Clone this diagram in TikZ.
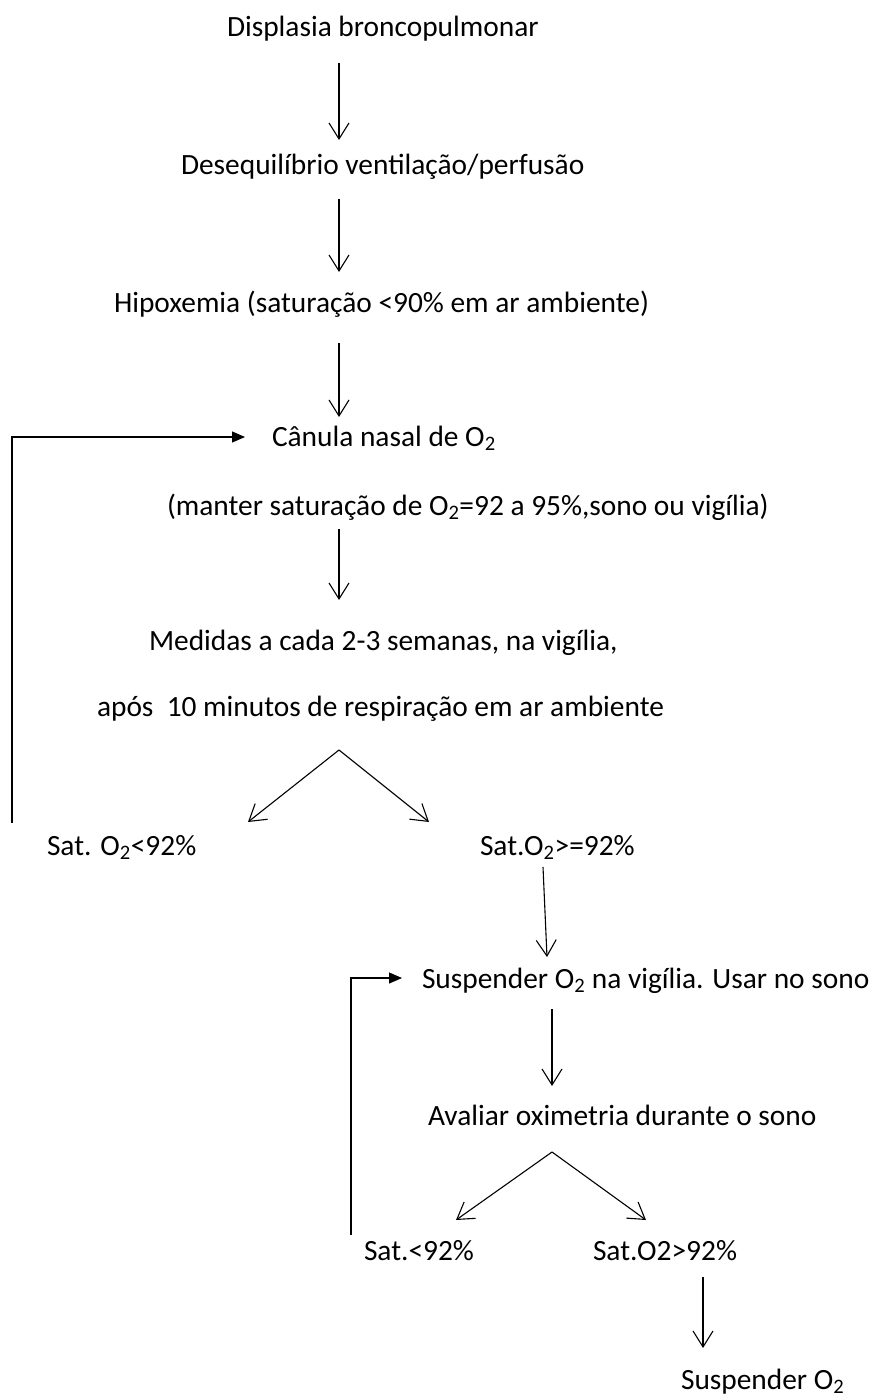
\documentclass[tikz,border=0pt]{standalone}
\usepackage{fontspec}
\setmainfont{Carlito}
\usepackage{tikz}
\usetikzlibrary{arrows}
\usetikzlibrary{arrows.meta}
\usetikzlibrary{positioning}
\tikzstyle{base}=[x=1bp, y=-1bp, line width=1.1bp]
\tikzstyle{txt}=[anchor=base west, inner sep=0pt, outer sep=0pt, font=\fontsize{29.5}{34}\selectfont]
\tikzstyle{flow}=[-{Straight Barb[length=16bp,width=20bp]}]
\tikzstyle{back}=[-{Triangle[length=13bp,width=11bp]}]
\newcommand*{\otwo}{O\textsubscript{2}}

\begin{document}
\begin{tikzpicture}[base]
    \path [use as bounding box] (0,0) rectangle (869,1399);
    \node [txt] (dbp) at (227,37) {Displasia broncopulmonar};
    \node [txt] (dvp) at (181,175) {Desequilíbrio ventilação/perfusão};
    \node [txt] (hip) at (114,312) {Hipoxemia (saturação <90\% em ar ambiente)};
    \node [txt] (can) at (272,446) {Cânula nasal de \otwo};
    \node [txt] (man) at (167,515) {(manter saturação de \otwo=92 a 95\%,sono ou vigília)};
    \node [txt] (med) at (149,650) {Medidas a cada 2-3 semanas, na vigília,};
    \node [txt] (apo) at (97,716) {após\ \ 10 minutos de respiração em ar ambiente};
    \node [txt] (low) at (47,855) {Sat. \otwo<92\%};
    \node [txt] (high) at (480,855) {Sat.\otwo>=92\%};
    \node [txt] (susp) at (422,988) {Suspender \otwo\ na vigília. Usar no sono};
    \node [txt] (oxi) at (428,1125) {Avaliar oximetria durante o sono};
    \node [txt] (slow) at (364,1260) {Sat.<92\%};
    \node [txt] (shigh) at (593,1260) {Sat.O2>92\%};
    \node [txt] (stop) at (681,1389) {Suspender \otwo};
        \coordinate (a1s) at (339,63);   \coordinate (a1e) at (339,140);
        \coordinate (a2s) at (339,199);  \coordinate (a2e) at (339,272);
        \coordinate (a3s) at (339,343);  \coordinate (a3e) at (339,417);
        \coordinate (a4s) at (339,529);  \coordinate (a4e) at (339,600);
        \coordinate (fk1) at (339,750);  \coordinate (fk1l) at (248,822);
        \coordinate (fk1r) at (429,822);
        \coordinate (a5s) at (543,867);  \coordinate (a5e) at (547,957);
        \coordinate (lp1) at (12,823);   \coordinate (lp1e) at (245,437);
        \coordinate (a6s) at (552,1009); \coordinate (a6e) at (552,1086);
        \coordinate (fk2) at (552,1152); \coordinate (fk2l) at (456,1220);
        \coordinate (fk2r) at (646,1220);
        \coordinate (lp2) at (351,1235); \coordinate (lp2e) at (402,978);
        \coordinate (a7s) at (703,1277); \coordinate (a7e) at (703,1348);
        \draw [flow] (a1s) -- (a1e);
        \draw [flow] (a2s) -- (a2e);
        \draw [flow] (a3s) -- (a3e);
        \draw [flow] (a4s) -- (a4e);
        \draw [flow] (fk1) -- (fk1l);
        \draw [flow] (fk1) -- (fk1r);
        \draw [flow] (a5s) -- (a5e);
        \draw [back] (lp1) |- (lp1e);
        \draw [flow] (a6s) -- (a6e);
        \draw [flow] (fk2) -- (fk2l);
        \draw [flow] (fk2) -- (fk2r);
        \draw [back] (lp2) |- (lp2e);
        \draw [flow] (a7s) -- (a7e);
\end{tikzpicture}
\end{document}
